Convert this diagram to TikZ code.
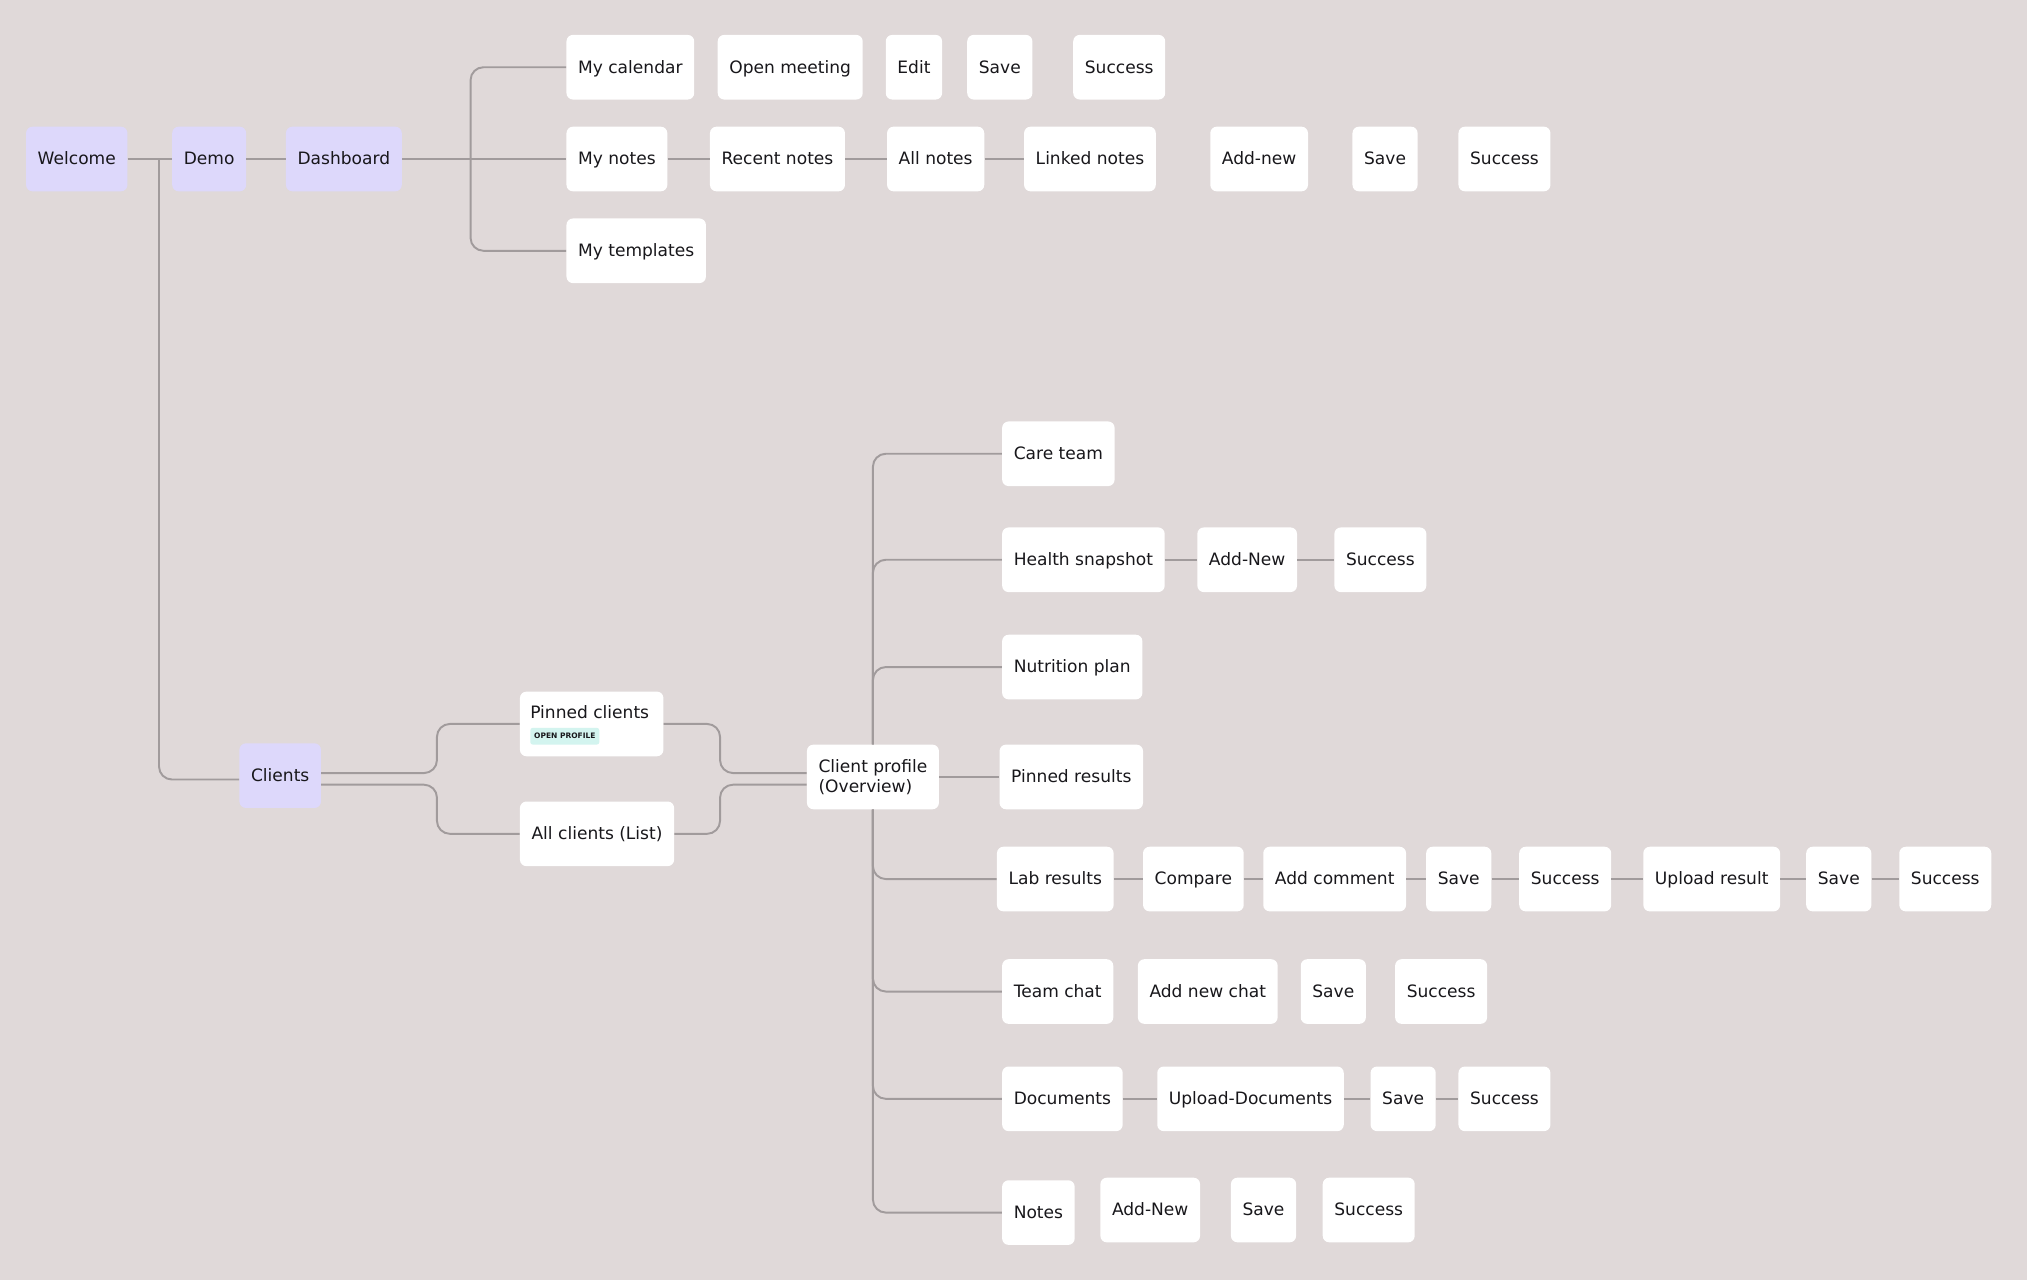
\documentclass[tikz,border=0pt]{standalone}
\usepackage{fontspec}
\setmainfont{DejaVu Sans}
\usepackage{xcolor}
\usepackage{tikz}
\usetikzlibrary{calc}

\definecolor{canvas}{HTML}{E0D9D9}
\definecolor{lilac}{HTML}{DDD8FB}
\definecolor{wire}{HTML}{A19B9C}
\definecolor{ink}{HTML}{18171B}
\definecolor{mint}{HTML}{D3F4EF}

\begin{document}
\begin{tikzpicture}[x=1pt, y=-1pt,
    screen/.style={fill=white, rounded corners=5pt, anchor=west, minimum height=50pt,
                   inner xsep=9pt, text height=9.6pt, text depth=0.6pt,
                   text=ink, font=\fontsize{13.2}{15.5}\selectfont},
    entry/.style={screen, fill=lilac},
    badge/.style={fill=mint, rounded corners=2pt, anchor=west, inner xsep=3pt,
                  minimum height=13pt, text=ink, font=\fontsize{5.8}{6.5}\selectfont\bfseries},
    flow/.style={draw=wire, line width=1.5pt, rounded corners=10pt}]

                % Canvas
                \fill[canvas] (0,0) rectangle (1568,990);
                \useasboundingbox (0,0) rectangle (1568,990);

                % Entry screens
                \node[entry] (welcome) at (20, 123) {Welcome};
                \node[entry] (demo) at (133, 123) {Demo};
                \node[entry] (dash) at (221, 123) {Dashboard};
                \node[entry] (clients) at (185, 600) {Clients};

                % Dashboard branch
                \node[screen] (mycal) at (438, 52) {My calendar};
                \node[screen] (openmeet) at (555, 52) {Open meeting};
                \node[screen] (editcal) at (685, 52) {Edit};
                \node[screen] (savecal) at (748, 52) {Save};
                \node[screen] (succcal) at (830, 52) {Success};

                \node[screen] (mynotes) at (438, 123) {My notes};
                \node[screen] (recent) at (549, 123) {Recent notes};
                \node[screen] (allnotes) at (686, 123) {All notes};
                \node[screen] (linked) at (792, 123) {Linked notes};
                \node[screen] (addnote) at (936, 123) {Add-new};
                \node[screen] (savenote) at (1046, 123) {Save};
                \node[screen] (succnote) at (1128, 123) {Success};

                \node[screen] (mytempl) at (438, 194) {My templates};

                % Clients branch
                \node[screen, minimum width=111pt] (pinned) at (402, 560) {};
                \node[anchor=west, inner sep=0pt, text=ink, font=\fontsize{13.2}{15.5}\selectfont]
                    (pinnedtxt) at (410, 551) {Pinned clients};
                \node[badge] (openprof) at (410, 569.5) {OPEN PROFILE};
                \node[screen] (allclients) at (402, 645) {All clients (List)};
                \node[screen, align=left, text height=, text depth=]
                    (profile) at (624, 601) {Client profile\\(Overview)};

                % Profile sections
                \node[screen] (care) at (775, 351) {Care team};

                \node[screen] (health) at (775, 433) {Health snapshot};
                \node[screen] (addhealth) at (926, 433) {Add-New};
                \node[screen] (succhealth) at (1032, 433) {Success};

                \node[screen] (nutrition) at (775, 516) {Nutrition plan};
                \node[screen] (pinres) at (773, 601) {Pinned results};

                \node[screen] (lab) at (771, 680) {Lab results};
                \node[screen] (compare) at (884, 680) {Compare};
                \node[screen] (addcomm) at (977, 680) {Add comment};
                \node[screen] (savelab) at (1103, 680) {Save};
                \node[screen] (succlab) at (1175, 680) {Success};
                \node[screen] (upload) at (1271, 680) {Upload result};
                \node[screen] (saveup) at (1397, 680) {Save};
                \node[screen] (succup) at (1469, 680) {Success};

                \node[screen] (team) at (775, 767) {Team chat};
                \node[screen] (addchat) at (880, 767) {Add new chat};
                \node[screen] (savechat) at (1006, 767) {Save};
                \node[screen] (succchat) at (1079, 767) {Success};

                \node[screen] (docs) at (775, 850) {Documents};
                \node[screen] (updocs) at (895, 850) {Upload-Documents};
                \node[screen] (savedocs) at (1060, 850) {Save};
                \node[screen] (succdocs) at (1128, 850) {Success};

                \node[screen] (notes) at (775, 938) {Notes};
                \node[screen] (addnotes) at (851, 936) {Add-New};
                \node[screen] (savenotes) at (952, 936) {Save};
                \node[screen] (succnotes) at (1023, 936) {Success};

                % Connections, top
                \coordinate (fork) at (364, 123);
                \coordinate (drop) at (123, 123);
                \draw[flow] (welcome) -- (demo);
                \draw[flow] (demo) -- (dash);
                \draw[flow] (dash) -- (mynotes);
                \draw[flow] (mycal.west) -| (fork) |- (mytempl.west);
                \draw[flow] (mynotes) -- (recent);
                \draw[flow] (recent) -- (allnotes);
                \draw[flow] (allnotes) -- (linked);

                % Connections, clients
                \draw[flow] (drop) |- ($(clients.west)+(0,3)$);
                \draw[flow] ($(clients.east)+(0,-2)$) -| (338, 560) -- (pinned.west);
                \draw[flow] ($(clients.east)+(0,7)$) -| (338, 645) -- (allclients.west);
                \draw[flow] (pinned.east) -| (557, 598) -- ($(profile.west)+(0,-3)$);
                \draw[flow] (allclients.east) -| (557, 607) -- ($(profile.west)+(0,6)$);

                % Connections, profile
                \draw[flow] (profile.north) |- (care.west);
                \draw[flow] (profile.north) |- (health.west);
                \draw[flow] (profile.north) |- (nutrition.west);
                \draw[flow] (profile) -- (pinres);
                \draw[flow] (profile.south) |- (lab.west);
                \draw[flow] (profile.south) |- (team.west);
                \draw[flow] (profile.south) |- (docs.west);
                \draw[flow] (profile.south) |- (notes.west);

                \draw[flow] (health) -- (addhealth);
                \draw[flow] (addhealth) -- (succhealth);

                \draw[flow] (lab) -- (compare);
                \draw[flow] (compare) -- (addcomm);
                \draw[flow] (addcomm) -- (savelab);
                \draw[flow] (savelab) -- (succlab);
                \draw[flow] (succlab) -- (upload);
                \draw[flow] (upload) -- (saveup);
                \draw[flow] (saveup) -- (succup);

                \draw[flow] (docs) -- (updocs);
                \draw[flow] (updocs) -- (savedocs);
                \draw[flow] (savedocs) -- (succdocs);
\end{tikzpicture}
\end{document}
